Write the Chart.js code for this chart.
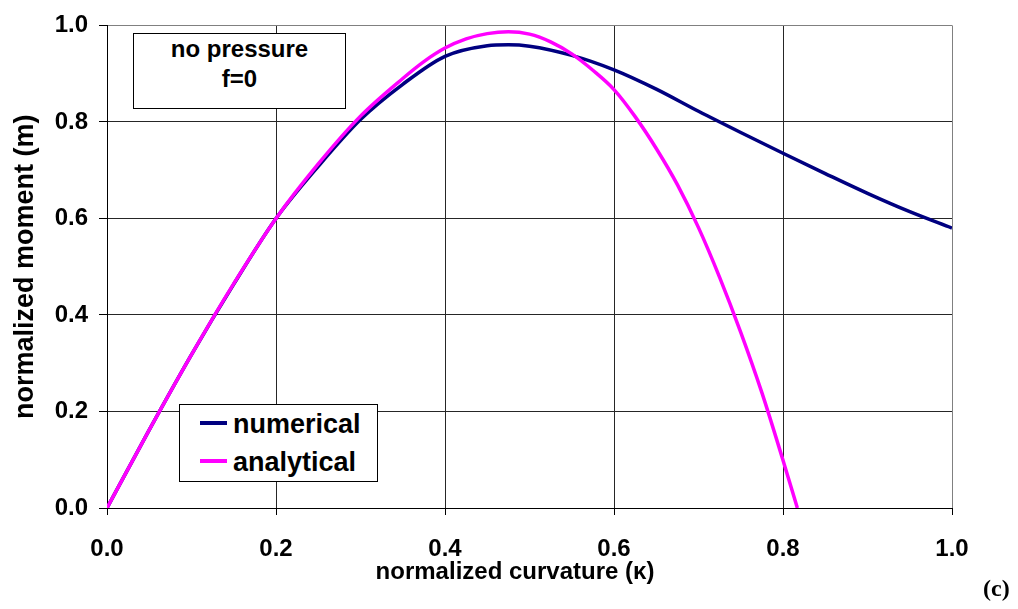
<!DOCTYPE html>
<html>
<head>
<meta charset="utf-8">
<script src="https://cdn.jsdelivr.net/npm/chart.js@4.4.1/dist/chart.umd.min.js"></script>
<style>
  html, body { margin: 0; padding: 0; background: #ffffff; }
  #wrap { position: relative; width: 1018px; height: 609px; overflow: hidden;
          font-family: "Liberation Sans", Arial, sans-serif; font-weight: bold; color: #000; }
  #chart { position: absolute; left: 0; top: 0; }
  .note { position: absolute; left: 133px; top: 33px; width: 213px; height: 76px;
          border: 1px solid #000; background: #fff; text-align: center;
          font-size: 24px; line-height: 30px; box-sizing: border-box; }
  .legend { position: absolute; left: 179px; top: 404px; width: 199px; height: 78px;
            border: 1px solid #000; background: #fff; box-sizing: border-box; }
  .legend .item { position: absolute; left: 0; height: 30px; line-height: 30px;
                  font-size: 27px; white-space: nowrap; }
  .legend .swatch { position: absolute; left: 20px; top: 12px; width: 27px; height: 4px; }
  .legend .txt { position: absolute; left: 53px; top: 0; }
  .xtitle { position: absolute; left: 315px; top: 559px; width: 400px; text-align: center;
            font-size: 24px; line-height: 24px; white-space: nowrap; }
  .tag { position: absolute; left: 983px; top: 576px; font-family: "Liberation Serif", "Times New Roman", serif;
         font-weight: bold; font-size: 24px; line-height: 24px; }
</style>
</head>
<body>
<div id="wrap">
  <canvas id="chart" width="1018" height="609"></canvas>
  <div class="note">no pressure<br>f=0</div>
  <div class="legend" id="legend"></div>
  <div class="xtitle">normalized curvature (κ)</div>
  <div class="tag">(c)</div>
</div>
<script>
// ---- data ----
const kappaNumerical  = [0, 0.05, 0.1, 0.15, 0.2, 0.25, 0.3, 0.35, 0.4, 0.45, 0.475, 0.5, 0.55, 0.6, 0.65, 0.7, 0.75, 0.8, 0.85, 0.9, 0.95, 1.0];
const momentNumerical = [0, 0.162, 0.318, 0.464, 0.6, 0.708, 0.805, 0.878, 0.936, 0.958, 0.96, 0.957, 0.938, 0.908, 0.868, 0.822, 0.778, 0.735, 0.693, 0.652, 0.614, 0.58];

const kappaAnalytical  = [0, 0.05, 0.1, 0.15, 0.2, 0.25, 0.3, 0.35, 0.375, 0.4, 0.425, 0.45, 0.475, 0.5, 0.525, 0.55, 0.575, 0.6, 0.625, 0.65, 0.675, 0.7, 0.725, 0.75, 0.775, 0.8, 0.817];
const momentAnalytical = [0, 0.162, 0.318, 0.465, 0.6, 0.713, 0.812, 0.89, 0.925, 0.953, 0.972, 0.983, 0.987, 0.982, 0.966, 0.941, 0.907, 0.867, 0.811, 0.745, 0.670, 0.581, 0.478, 0.364, 0.239, 0.099, 0];

const xTickValues = [0, 0.2, 0.4, 0.6, 0.8, 1.0];
const yTickValues = [0, 0.2, 0.4, 0.6, 0.8, 1.0];
const seriesLabels = ['numerical', 'analytical'];
const seriesColors = ['#000080', '#FF00FF'];
const yAxisTitle = 'normalized moment (m)';

// ---- build chart ----
const toPoints = (xs, ys) => xs.map((x, i) => ({ x: x, y: ys[i] }));
const tickFont = { family: '"Liberation Sans", Arial, sans-serif', weight: 'bold', size: 24 };
const gridColor = (ctx) => (ctx.tick && Math.abs(ctx.tick.value - 1) < 1e-9) ? '#808080' : '#262626';

const chart = new Chart(document.getElementById('chart'), {
  type: 'scatter',
  data: {
    datasets: [
      { label: seriesLabels[0], data: toPoints(kappaNumerical, momentNumerical),
        showLine: true, borderColor: seriesColors[0], backgroundColor: seriesColors[0],
        borderWidth: 3.5, pointRadius: 0, cubicInterpolationMode: 'monotone', order: 1 },
      { label: seriesLabels[1], data: toPoints(kappaAnalytical, momentAnalytical),
        showLine: true, borderColor: seriesColors[1], backgroundColor: seriesColors[1],
        borderWidth: 3.5, pointRadius: 0, cubicInterpolationMode: 'monotone', order: 0 }
    ]
  },
  options: {
    responsive: false,
    animation: false,
    devicePixelRatio: 1,
    layout: { padding: { top: 20, right: 66, left: 0, bottom: 0 } },
    plugins: { legend: { display: false }, tooltip: { enabled: false } },
    scales: {
      x: {
        type: 'linear', min: 0, max: 1,
        afterBuildTicks: (s) => { s.ticks = xTickValues.map(v => ({ value: v })); },
        afterFit: (s) => { s.height = 101; },
        ticks: { font: tickFont, color: '#000', padding: 20, maxRotation: 0,
                 callback: (v) => Number(v).toFixed(1) },
        grid: { color: gridColor, lineWidth: 1, tickLength: 7, tickColor: '#000' },
        border: { color: '#000', width: 1 }
      },
      y: {
        type: 'linear', min: 0, max: 1,
        afterBuildTicks: (s) => { s.ticks = yTickValues.map(v => ({ value: v })); },
        afterFit: (s) => { s.width = 107; },
        ticks: { font: tickFont, color: '#000', padding: 11,
                 callback: (v) => Number(v).toFixed(1) },
        grid: { color: gridColor, lineWidth: 1, tickLength: 8, tickColor: '#000' },
        border: { color: '#000', width: 1 },
        title: { display: true, text: yAxisTitle, color: '#000',
                 font: { family: '"Liberation Sans", Arial, sans-serif', weight: 'bold', size: 27 },
                 padding: { top: 9, bottom: 0 } }
      }
    }
  }
});

// ---- legend built from the datasets ----
const legendEl = document.getElementById('legend');
chart.data.datasets.forEach((ds, i) => {
  const item = document.createElement('div');
  item.className = 'item';
  item.style.top = (4 + i * 38) + 'px';
  const sw = document.createElement('span');
  sw.className = 'swatch';
  sw.style.background = ds.borderColor;
  const tx = document.createElement('span');
  tx.className = 'txt';
  tx.textContent = ds.label;
  item.appendChild(sw);
  item.appendChild(tx);
  legendEl.appendChild(item);
});
</script>
</body>
</html>
